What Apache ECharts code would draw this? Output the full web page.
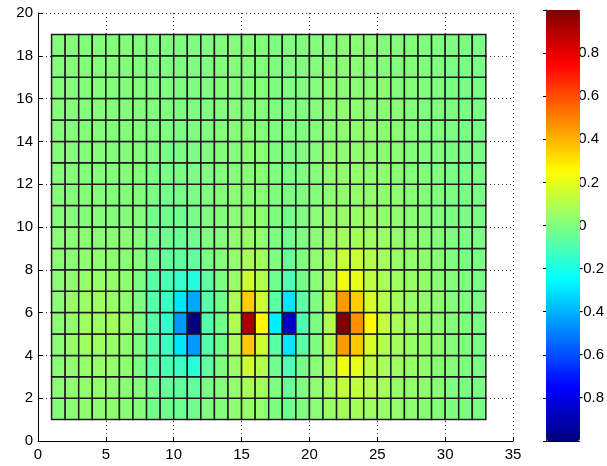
<!DOCTYPE html>
<html>
<head>
<meta charset="utf-8">
<script src="https://cdn.jsdelivr.net/npm/echarts@6/dist/echarts.min.js"></script>
<style>
  html, body { margin: 0; padding: 0; background: #fff; }
  #chart { width: 607px; height: 466px; }
</style>
</head>
<body>
<div id="chart"></div>
<script>
// Tick positions of the field axes and the colour bar
const xTicks = [0, 5, 10, 15, 20, 25, 30, 35];
const yTicks = [0, 2, 4, 6, 8, 10, 12, 14, 16, 18, 20];
const colorbarTicks = [-0.8, -0.6, -0.4, -0.2, 0, 0.2, 0.4, 0.6, 0.8];

// Cell values, one row per unit of y (bottom row first, y = 1..18),
// one entry per unit of x (x = 1..32)
const cellRows = [
  [0.01,0.02,0.03,0.03,0.03,0.02,0.01,-0.02,-0.03,-0.04,-0.03,0.00,0.01,0.03,0.05,0.04,0.00,-0.03,0.00,0.02,0.05,0.07,0.07,0.06,0.05,0.04,0.03,0.02,0.01,0.00,-0.01,-0.01],
  [0.02,0.03,0.03,0.04,0.03,0.02,0.01,-0.03,-0.05,-0.06,-0.06,-0.01,0.01,0.04,0.08,0.07,0.00,-0.05,0.00,0.03,0.07,0.13,0.13,0.10,0.07,0.05,0.04,0.03,0.02,0.00,-0.01,-0.01],
  [0.02,0.04,0.04,0.05,0.04,0.03,-0.01,-0.07,-0.10,-0.13,-0.17,-0.07,0.00,0.05,0.15,0.10,-0.03,-0.10,-0.02,0.02,0.08,0.22,0.20,0.12,0.08,0.06,0.05,0.04,0.02,0.01,0.00,-0.01],
  [0.02,0.05,0.06,0.06,0.05,0.03,0.00,-0.08,-0.13,-0.30,-0.45,-0.09,-0.03,0.08,0.36,0.15,-0.07,-0.30,-0.07,0.00,0.10,0.45,0.36,0.17,0.10,0.07,0.05,0.04,0.03,0.01,0.00,-0.01],
  [0.02,0.04,0.06,0.06,0.07,0.05,0.00,-0.08,-0.15,-0.45,-1.00,-0.09,-0.03,0.09,0.92,0.26,-0.28,-0.85,-0.10,-0.01,0.10,1.00,0.47,0.26,0.13,0.08,0.06,0.04,0.03,0.01,0.00,-0.01],
  [0.02,0.05,0.05,0.06,0.05,0.03,0.00,-0.08,-0.13,-0.30,-0.42,-0.08,-0.03,0.08,0.35,0.15,-0.07,-0.30,-0.07,0.00,0.10,0.45,0.35,0.17,0.10,0.07,0.05,0.04,0.03,0.01,0.00,-0.01],
  [0.02,0.04,0.04,0.05,0.04,0.03,-0.01,-0.07,-0.10,-0.14,-0.18,-0.07,0.00,0.05,0.15,0.10,-0.03,-0.10,-0.02,0.02,0.08,0.22,0.20,0.12,0.08,0.06,0.05,0.04,0.02,0.01,0.00,-0.01],
  [0.02,0.02,0.03,0.03,0.03,0.02,0.01,-0.03,-0.05,-0.06,-0.06,-0.01,0.01,0.04,0.08,0.07,0.00,-0.05,0.00,0.03,0.07,0.14,0.14,0.10,0.07,0.05,0.04,0.03,0.02,0.00,-0.01,-0.01],
  [0.02,0.02,0.02,0.02,0.02,0.02,0.01,-0.02,-0.03,-0.04,-0.03,0.00,0.01,0.03,0.05,0.04,0.00,-0.03,0.00,0.02,0.05,0.07,0.07,0.06,0.05,0.04,0.03,0.02,0.01,0.00,-0.01,-0.01],
  [0.01,0.01,0.01,0.01,0.01,0.01,0.01,-0.02,-0.03,-0.03,-0.02,0.00,0.01,0.02,0.03,0.03,0.00,-0.02,0.00,0.02,0.04,0.05,0.05,0.05,0.04,0.03,0.02,0.01,0.00,-0.01,-0.01,-0.01],
  [0.01,0.01,0.01,0.01,0.01,0.01,0.01,-0.01,-0.02,-0.02,-0.01,0.00,0.01,0.02,0.02,0.02,0.00,-0.01,0.00,0.01,0.03,0.04,0.04,0.04,0.03,0.03,0.02,0.01,0.00,-0.01,-0.01,-0.01],
  [0.01,0.01,0.01,0.01,0.01,0.01,0.01,-0.01,-0.01,-0.01,-0.01,0.00,0.01,0.01,0.02,0.02,0.00,-0.01,0.00,0.01,0.03,0.04,0.04,0.03,0.03,0.02,0.01,0.01,0.00,-0.01,-0.01,-0.01],
  [0.01,0.01,0.01,0.01,0.01,0.01,0.01,0.00,-0.01,-0.01,-0.01,0.00,0.01,0.01,0.02,0.02,0.00,-0.01,0.00,0.01,0.03,0.03,0.03,0.03,0.02,0.02,0.01,0.00,0.00,-0.01,-0.01,-0.01],
  [0.01,0.01,0.01,0.01,0.01,0.01,0.01,0.00,0.00,-0.01,0.00,0.00,0.01,0.01,0.02,0.01,0.00,0.00,0.00,0.01,0.02,0.03,0.03,0.03,0.02,0.02,0.01,0.00,0.00,-0.01,-0.01,-0.01],
  [0.01,0.01,0.01,0.01,0.01,0.01,0.01,0.00,0.00,0.00,0.00,0.00,0.01,0.01,0.01,0.01,0.00,0.00,0.00,0.01,0.02,0.03,0.03,0.02,0.02,0.02,0.01,0.00,0.00,-0.01,-0.01,-0.01],
  [0.01,0.01,0.01,0.01,0.01,0.01,0.01,0.00,0.00,0.00,0.00,0.00,0.01,0.01,0.01,0.01,0.00,0.00,0.00,0.01,0.02,0.02,0.02,0.02,0.02,0.01,0.01,0.00,0.00,-0.01,-0.01,-0.01],
  [0.01,0.01,0.01,0.01,0.01,0.01,0.01,0.00,0.00,0.00,0.00,0.00,0.01,0.01,0.01,0.01,0.00,0.00,0.00,0.01,0.02,0.02,0.02,0.02,0.01,0.01,0.01,0.00,0.00,-0.01,-0.01,-0.01],
  [0.01,0.01,0.01,0.01,0.01,0.01,0.01,0.00,0.00,0.00,0.00,0.00,0.01,0.01,0.01,0.01,0.00,0.00,0.00,0.01,0.01,0.02,0.02,0.02,0.01,0.01,0.01,0.00,0.00,0.00,-0.01,-0.01]
];

// Jet colour map, evenly spaced stops from -1 to 1
const jetColors = ['#000080', '#0000ff', '#0080ff', '#00ffff', '#80ff80', '#ffff00', '#ff8000', '#ff0000', '#800000'];

const cells = [];
cellRows.forEach((row, j) => {
  row.forEach((v, i) => cells.push([i + 1, j + 1, v]));
});

const FONT = 'Liberation Sans';

function renderCell(params, api) {
  const x = api.value(0), y = api.value(1);
  const p0 = api.coord([x, y]);
  const p1 = api.coord([x + 1, y + 1]);
  return {
    type: 'rect',
    shape: { x: p0[0], y: p1[1], width: p1[0] - p0[0], height: p0[1] - p1[1] },
    style: { fill: api.visual('color'), stroke: '#1c1c1c', lineWidth: 1.5 }
  };
}

function cbLabel(v) {
  if (Math.abs(v) > 0.99) return '';
  if (Math.abs(v) < 1e-9) return '0';
  return String(+v.toFixed(1));
}

const chart = echarts.init(document.getElementById('chart'), null, { renderer: 'canvas' });
chart.setOption({
  animation: false,
  backgroundColor: '#ffffff',
  grid: [
    { left: 38, top: 13, width: 475, height: 428, containLabel: false },
    { left: 546, top: 10, width: 34, height: 431, containLabel: false }
  ],
  xAxis: [
    {
      gridIndex: 0, type: 'value', min: xTicks[0], max: xTicks[xTicks.length - 1], interval: 5,
      axisLine: { show: true, onZero: false, lineStyle: { color: '#000', width: 1 } },
      axisTick: { show: true, inside: true, length: 4, lineStyle: { color: '#000' } },
      axisLabel: { color: '#000', fontFamily: FONT, fontSize: 15, margin: 6 },
      splitLine: { show: true, lineStyle: { color: '#333', type: [1, 3], width: 1 } }
    },
    {
      gridIndex: 1, type: 'value', min: 0, max: 1, position: 'bottom',
      axisLine: { show: true, onZero: false, lineStyle: { color: '#000' } },
      axisTick: { show: false }, axisLabel: { show: false }, splitLine: { show: false }
    },
    {
      gridIndex: 1, type: 'value', min: 0, max: 1, position: 'top',
      axisLine: { show: true, onZero: false, lineStyle: { color: '#000' } },
      axisTick: { show: false }, axisLabel: { show: false }, splitLine: { show: false }
    }
  ],
  yAxis: [
    {
      gridIndex: 0, type: 'value', min: yTicks[0], max: yTicks[yTicks.length - 1], interval: 2,
      axisLine: { show: true, onZero: false, lineStyle: { color: '#000', width: 1 } },
      axisTick: { show: true, inside: true, length: 4, lineStyle: { color: '#000' } },
      axisLabel: { color: '#000', fontFamily: FONT, fontSize: 15, margin: 5 },
      splitLine: { show: true, lineStyle: { color: '#333', type: [1, 3], width: 1 } }
    },
    {
      gridIndex: 1, type: 'value', min: -1, max: 1, interval: 0.2, position: 'right',
      axisLine: { show: true, onZero: false, lineStyle: { color: '#000' } },
      axisTick: { show: true, inside: false, length: 3, lineStyle: { color: '#000' } },
      axisLabel: { color: '#000', fontFamily: FONT, fontSize: 15, margin: 1, formatter: cbLabel },
      splitLine: { show: false }
    },
    {
      gridIndex: 1, type: 'value', min: -1, max: 1, interval: 0.2, position: 'left',
      axisLine: { show: true, onZero: false, lineStyle: { color: '#000' } },
      axisTick: { show: true, inside: false, length: 3, lineStyle: { color: '#000' } },
      axisLabel: { show: false },
      splitLine: { show: false }
    }
  ],
  visualMap: {
    type: 'continuous',
    min: -1, max: 1,
    dimension: 2,
    seriesIndex: 0,
    orient: 'vertical',
    left: 546, top: 10,
    itemWidth: 34, itemHeight: 431,
    padding: 0,
    calculable: false,
    hoverLink: false,
    realtime: false,
    text: null,
    showLabel: false,
    inRange: { color: jetColors }
  },
  series: [
    {
      type: 'custom',
      xAxisIndex: 0, yAxisIndex: 0,
      renderItem: renderCell,
      encode: { x: 0, y: 1 },
      data: cells,
      z: 3
    }
  ]
});
</script>
</body>
</html>
